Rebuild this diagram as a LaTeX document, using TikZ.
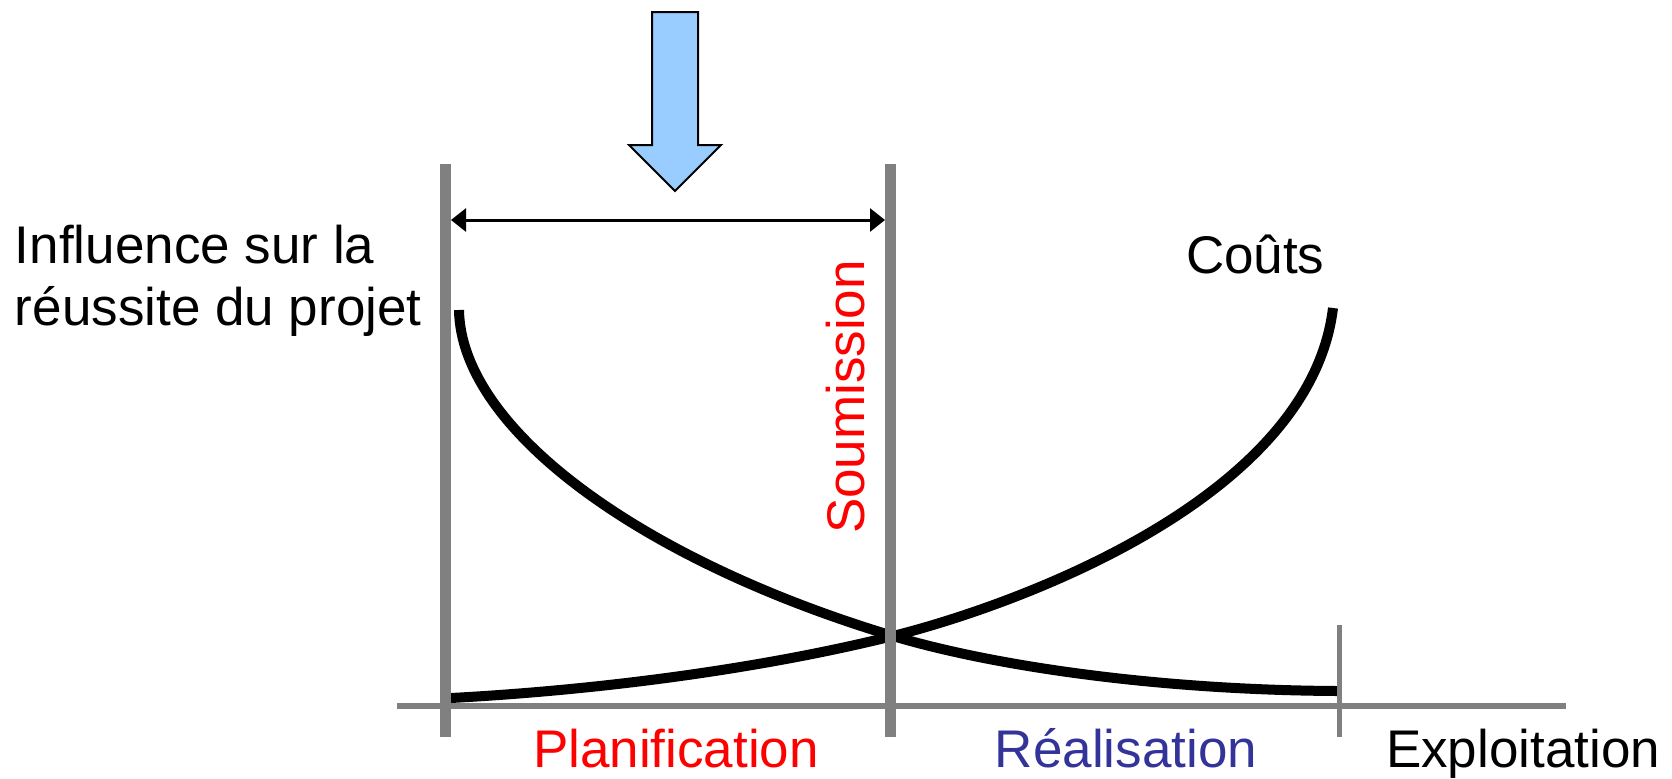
\documentclass[tikz,border=0pt]{standalone}
\usepackage{fontspec}
\setmainfont{Liberation Sans}
\usetikzlibrary{arrows.meta}
\definecolor{bargray}{HTML}{808080}
\definecolor{arrowblue}{HTML}{99CCFF}
\definecolor{realblue}{HTML}{333399}
\begin{document}
\begin{tikzpicture}[x=0.5pt,y=-0.5pt,
  lbl/.style={inner sep=0pt, outer sep=0pt, font=\fontsize{26.5}{30}\selectfont},
  bar/.style={draw=bargray, line width=5.25pt},
  tickbar/.style={draw=bargray, line width=2.5pt},
  axisline/.style={draw=bargray, line width=2.6pt},
  curve/.style={draw=black, line width=5pt},
  span/.style={draw=black, line width=1.5pt, {Triangle[length=7.5pt,width=11.5pt]}-{Triangle[length=7.5pt,width=11.5pt]}},
  bigarrow/.style={draw=black, fill=arrowblue, line width=1pt, line join=miter}]
\useasboundingbox (0,0) rectangle (1672,778);
% coordinates
\coordinate (axL) at (397,706);
\coordinate (axR) at (1566,706);
\coordinate (b1t) at (445.5,164);
\coordinate (b1b) at (445.5,737);
\coordinate (b2t) at (890.5,164);
\coordinate (b2b) at (890.5,737);
\coordinate (tkt) at (1339,625);
\coordinate (tkb) at (1339,737);
\coordinate (dl) at (451,220);
\coordinate (dr) at (885,220);
\coordinate (c1s) at (459,310);
\coordinate (c1e) at (1337,691);
\coordinate (c2s) at (451,698);
\coordinate (c2e) at (1333,308);
\coordinate (cross) at (893,636);
% axis
\draw[axisline] (axL) -- (axR);
% curves
\draw[curve] (c1s) .. controls (461,430) and (643,561) .. (cross)
                   .. controls (993,666) and (1157,690) .. (c1e);
\draw[curve] (c2s) .. controls (600,690) and (760,669) .. (cross)
                   .. controls (1013,606) and (1310,500) .. (c2e);
% bars
\draw[bar] (b1t) -- (b1b);
\draw[bar] (b2t) -- (b2b);
\draw[tickbar] (tkt) -- (tkb);
% span arrow
\draw[span] (dl) -- (dr);
% blue arrow
\draw[bigarrow] (652,12) -- (698,12) -- (698,145) -- (721,145) -- (675,191) -- (629,145) -- (652,145) -- cycle;
% labels
\node[lbl, anchor=base west] (infl1) at (15,263) {Influence sur la};
\node[lbl, anchor=base west] (infl2) at (15,325) {réussite du projet};
\node[lbl, anchor=base west] (couts) at (1186,273) {Coûts};
\node[lbl, anchor=base, rotate=90, text=red] (soum) at (864,397) {Soumission};
\node[lbl, anchor=base west, text=red] (plan) at (533,767) {Planification};
\node[lbl, anchor=base east, text=realblue] (real) at (1257,767) {Réalisation};
\node[lbl, anchor=base west] (expl) at (1386,767) {Exploitation};
\end{tikzpicture}
\end{document}
